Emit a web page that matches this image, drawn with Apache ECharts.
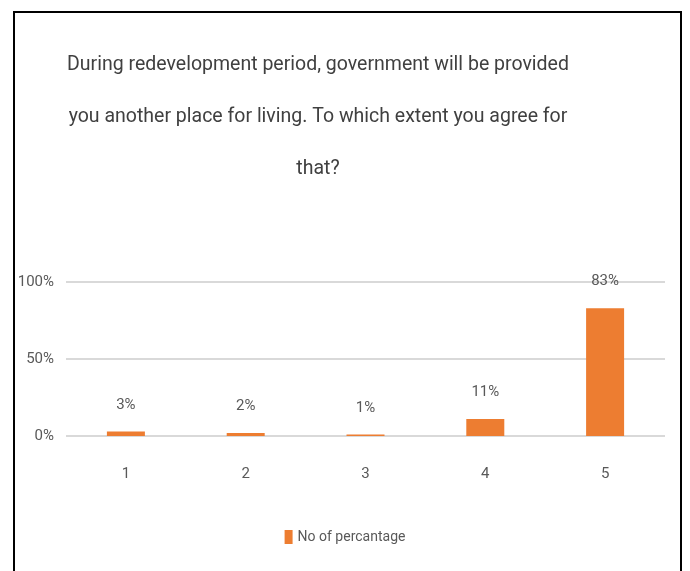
<!DOCTYPE html>
<html><head><meta charset="utf-8">
<script src="https://cdn.jsdelivr.net/npm/echarts@6/dist/echarts.min.js"></script>
<style>html,body{margin:0;padding:0;background:#fff}#c{width:690px;height:571px}</style>
</head><body><div id="c"></div>
<script>
var categories = ['1','2','3','4','5'];
var values = [3, 2, 1, 11, 83];
var seriesName = 'No of percantage';
var titleText = 'During redevelopment period, government will be provided\nyou another place for living. To which extent you agree for\nthat?';
var FONT = 'Roboto, "Liberation Sans Narrow", sans-serif';
var chart = echarts.init(document.getElementById('c'));
chart.setOption({
  animation: false,
  backgroundColor: '#fff',
  title: {
    text: titleText, left: 313, top: 34, textAlign: 'center',
    textStyle: {fontFamily: FONT, fontSize: 19.5, fontWeight: 'normal', color: '#404040', lineHeight: 52}
  },
  legend: {
    bottom: 22, left: 'center', itemWidth: 8, itemHeight: 14, icon: 'rect',
    textStyle: {fontFamily: FONT, fontSize: 14, color: '#595959'}, itemGap: 4
  },
  grid: {left: 66, right: 25, top: 282, height: 154},
  xAxis: {
    type: 'category', data: categories,
    axisLine: {show: false}, axisTick: {show: false},
    axisLabel: {fontFamily: FONT, fontSize: 15, color: '#595959', margin: 31}
  },
  yAxis: {
    type: 'value', min: 0, max: 100, interval: 50,
    axisLabel: {formatter: '{value}%', fontFamily: FONT, fontSize: 15, color: '#595959', margin: 12},
    splitLine: {lineStyle: {color: '#D9D9D9', width: 2}}
  },
  series: [{
    name: seriesName, type: 'bar', data: values, barWidth: 38,
    itemStyle: {color: '#ED7D31'},
    label: {show: true, position: 'top', distance: 19, formatter: '{c}%',
      fontFamily: FONT, fontSize: 15, color: '#595959'}
  }],
  graphic: [{
    type: 'polyline', silent: true,
    shape: {points: [[14, 571], [14, 12], [681, 12], [681, 571]]},
    style: {stroke: '#000', lineWidth: 2, fill: null}
  }]
});
</script></body></html>
